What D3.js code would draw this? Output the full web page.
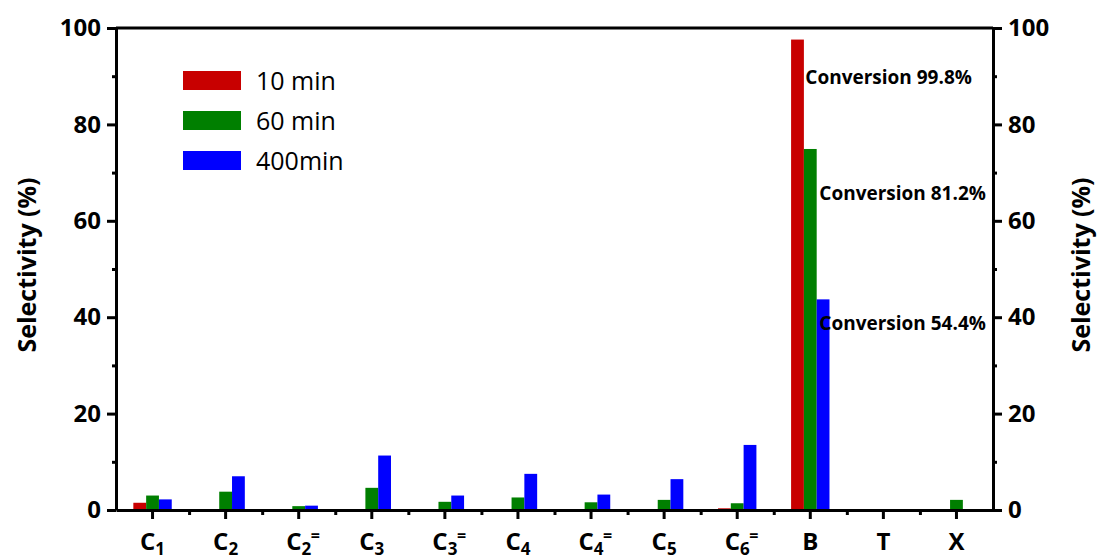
<!DOCTYPE html>
<html>
<head>
<meta charset="utf-8">
<script src="https://cdnjs.cloudflare.com/ajax/libs/d3/7.8.5/d3.min.js"></script>
<style>
    body { margin: 0; background: #fff; }
    #chart { width: 1099px; height: 559px; }
    text { font-family: "Open Sans", sans-serif; }
</style>
</head>
<body>
<div id="chart"></div>
<script>
// categories: base letter, subscript, olefin mark
let categories = ["C1", "C2", "C2=", "C3", "C3=", "C4", "C4=", "C5", "C6=", "B", "T", "X"];
let catBase = ["C", "C", "C", "C", "C", "C", "C", "C", "C", "B", "T", "X"];
let catSub = ["1", "2", "2", "3", "3", "4", "4", "5", "6", "", "", ""];
let catSup = ["", "", "=", "", "=", "", "=", "", "=", "", "", ""];

let seriesNames = ["10 min", "60 min", "400min"];
let seriesColors = ["#c80000", "#007f00", "#0000ff"];

let sel10 = [1.5, 0, 0, 0, 0, 0, 0, 0, 0.35, 97.6, 0, 0];
let sel60 = [3.0, 3.8, 0.8, 4.6, 1.7, 2.6, 1.6, 2.1, 1.4, 74.9, 0.2, 2.1];
let sel400 = [2.2, 7.0, 0.9, 11.3, 3.0, 7.5, 3.2, 6.4, 13.5, 43.7, 0, 0];

let conversions = ["Conversion 99.8%", "Conversion 81.2%", "Conversion 54.4%"];
let conversionAt = [89.7, 65.7, 38.8];

let yTicks = [0, 20, 40, 60, 80, 100];
let yMinorTicks = [10, 30, 50, 70, 90];

class SelectivityChart {

    constructor(parentElement) {
        this.parentElement = parentElement;
        this.initVis();
    }

    initVis() {
        let vis = this;

        vis.margin = {top: 28, right: 106, bottom: 49, left: 116};
        vis.width = 1099 - vis.margin.left - vis.margin.right;
        vis.height = 559 - vis.margin.top - vis.margin.bottom;

        vis.svg = d3.select("#" + vis.parentElement).append("svg")
            .attr("width", 1099)
            .attr("height", 559)
            .append("g")
            .attr("transform", "translate(" + vis.margin.left + "," + vis.margin.top + ")");

        vis.x = d3.scaleBand().domain(categories).range([0, vis.width]).padding(0);
        vis.y = d3.scaleLinear().domain([0, 100]).range([vis.height, 0]);

        vis.updateVis();
    }

    updateVis() {
        let vis = this;
        let barW = 12.8;
        let series = [sel10, sel60, sel400];

        // bars
        series.forEach((values, s) => {
            vis.svg.append("g").selectAll("rect")
                .data(values)
                .join("rect")
                .attr("x", (d, i) => vis.x(categories[i]) + vis.x.bandwidth() / 2 + (s - 1.5) * barW)
                .attr("y", d => vis.y(d))
                .attr("width", barW)
                .attr("height", d => vis.height - vis.y(d))
                .attr("fill", seriesColors[s]);
        });

        // axes
        let styleAxis = g => {
            g.select(".domain").attr("stroke-width", 3);
            g.selectAll(".tick line").attr("stroke-width", 3);
            g.selectAll(".tick text")
                .style("font-size", "24px")
                .style("font-weight", "bold")
                .attr("fill", "#000");
        };

        vis.svg.append("g")
            .call(d3.axisLeft(vis.y).tickValues(yTicks).tickSize(9).tickSizeOuter(0).tickPadding(6))
            .call(styleAxis);
        vis.svg.append("g")
            .call(d3.axisLeft(vis.y).tickValues(yMinorTicks).tickSize(4).tickFormat(""))
            .call(styleAxis)
            .select(".domain").remove();

        vis.svg.append("g")
            .attr("transform", "translate(" + vis.width + ",0)")
            .call(d3.axisRight(vis.y).tickValues(yTicks).tickSize(9).tickSizeOuter(0).tickPadding(6))
            .call(styleAxis);
        vis.svg.append("g")
            .attr("transform", "translate(" + vis.width + ",0)")
            .call(d3.axisRight(vis.y).tickValues(yMinorTicks).tickSize(4).tickFormat(""))
            .call(styleAxis)
            .select(".domain").remove();

        // top frame line
        vis.svg.append("line")
            .attr("x1", 0).attr("x2", vis.width)
            .attr("y1", 0).attr("y2", 0)
            .attr("stroke", "#000").attr("stroke-width", 3);

        // bottom axis: major ticks at categories, minor at boundaries
        vis.svg.append("g")
            .attr("transform", "translate(0," + vis.height + ")")
            .call(d3.axisBottom(vis.x).tickSize(9).tickSizeOuter(0).tickFormat(""))
            .call(styleAxis);
        let xEdge = d3.scaleLinear().domain([0, categories.length]).range([0, vis.width]);
        vis.svg.append("g")
            .attr("transform", "translate(0," + vis.height + ")")
            .call(d3.axisBottom(xEdge).tickValues(d3.range(1, categories.length)).tickSize(5).tickFormat(""))
            .call(styleAxis)
            .select(".domain").remove();

        // category labels with subscripts / olefin marks
        let labels = vis.svg.append("g").selectAll("g")
            .data(categories)
            .join("g")
            .attr("transform", d => "translate(" + (vis.x(d) + vis.x.bandwidth() / 2) + "," + (vis.height + 40) + ")");

        let lbl = labels.append("text")
            .attr("text-anchor", "middle")
            .style("font-weight", "bold")
            .style("font-size", "24px");
        lbl.append("tspan").text((d, i) => catBase[i]);
        lbl.append("tspan")
            .attr("dy", 5)
            .style("font-size", "17px")
            .text((d, i) => catSub[i]);

        labels.append("text")
            .attr("x", 12)
            .attr("y", -9)
            .style("font-weight", "bold")
            .style("font-size", "16px")
            .text((d, i) => catSup[i]);

        // axis titles
        vis.svg.append("text")
            .attr("transform", "translate(" + (-80) + "," + (vis.height / 2 - 4) + ") rotate(-90)")
            .attr("text-anchor", "middle")
            .style("font-weight", "bold")
            .style("font-size", "25px")
            .text("Selectivity (%)");
        vis.svg.append("text")
            .attr("transform", "translate(" + (vis.width + 97) + "," + (vis.height / 2 - 4) + ") rotate(-90)")
            .attr("text-anchor", "middle")
            .style("font-weight", "bold")
            .style("font-size", "25px")
            .text("Selectivity (%)");

        // conversion annotations next to B bars
        let bx = vis.x("B") + vis.x.bandwidth() / 2;
        vis.svg.append("g").selectAll("text")
            .data(conversions)
            .join("text")
            .attr("x", (d, i) => bx + (i === 0 ? -5 : 9))
            .attr("y", (d, i) => vis.y(conversionAt[i]))
            .attr("dy", "0.35em")
            .style("font-weight", "bold")
            .style("font-size", "19px")
            .text(d => d);

        // legend
        let legend = vis.svg.append("g")
            .attr("transform", "translate(67,43)")
            .selectAll("g")
            .data(seriesNames)
            .join("g")
            .attr("transform", (d, i) => "translate(0," + i * 40 + ")");
        legend.append("rect")
            .attr("width", 58)
            .attr("height", 19)
            .attr("fill", (d, i) => seriesColors[i]);
        legend.append("text")
            .attr("x", 73)
            .attr("y", 10)
            .attr("dy", "0.35em")
            .style("font-size", "25px")
            .text(d => d);
    }
}

new SelectivityChart("chart");
</script>
</body>
</html>
